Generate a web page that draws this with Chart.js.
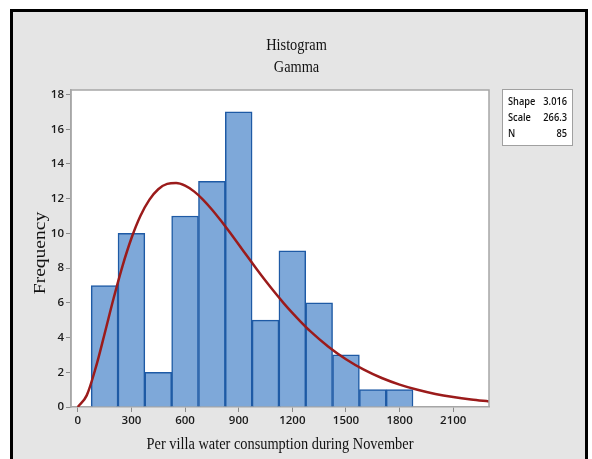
<!DOCTYPE html>
<html>
<head>
<meta charset="utf-8">
<script src="https://cdn.jsdelivr.net/npm/chart.js@4/dist/chart.umd.min.js"></script>
<style>
  body { margin: 0; background: #fff; }
  #frame {
    position: absolute; left: 10px; top: 9px;
    width: 578px; height: 470px;
    box-sizing: border-box;
    border: 3px solid #000;
    background: #e5e5e5;
  }
  #myChart { position: absolute; left: 0; top: 0; }
</style>
</head>
<body>
<div id="frame"></div>
<canvas id="myChart" width="592" height="459"></canvas>
<script>
// histogram bins (midpoints, width 150) and counts
var binMids = [150, 300, 450, 600, 750, 900, 1050, 1200, 1350, 1500, 1650, 1800];
var counts = [7, 10, 2, 11, 13, 17, 5, 9, 6, 3, 1, 1];

// fitted gamma curve
var curveX = [0, 50, 100, 150, 200, 250, 300, 350, 400, 450, 500, 550, 600, 650, 700, 750, 800,
    850, 900, 950, 1000, 1050, 1100, 1150, 1200, 1250, 1300, 1400, 1500, 1600, 1700, 1800,
    1900, 2000, 2100, 2200, 2300];
var curveY = [0, 0.67, 2.25, 4.22, 6.25, 8.12, 9.72, 11.0, 11.93, 12.54, 12.85, 12.9, 12.75, 12.42,
    11.95, 11.38, 10.74, 10.06, 9.36, 8.65, 7.95, 7.27, 6.62, 6.0, 5.42, 4.88, 4.37, 3.49,
    2.75, 2.15, 1.67, 1.29, 0.99, 0.75, 0.57, 0.43, 0.32];

var xTickValues = [0, 300, 600, 900, 1200, 1500, 1800, 2100];
var yTickValues = [0, 2, 4, 6, 8, 10, 12, 14, 16, 18];

var fitStats = [['Shape', '3.016'], ['Scale', '266.3'], ['N', '85']];

function squishText(ctx, txt, x, y, font, sx, rotate, align) {
    ctx.save();
    ctx.translate(x, y);
    ctx.scale(sx, 1);
    if (rotate) ctx.rotate(-Math.PI / 2);
    ctx.font = font;
    ctx.textAlign = align || 'center';
    ctx.textBaseline = 'alphabetic';
    ctx.fillStyle = '#111';
    ctx.fillText(txt, 0, 0);
    ctx.restore();
}

var minitabLook = {
    id: 'minitabLook',
    beforeDraw: function(chart) {
        var ctx = chart.ctx, a = chart.chartArea;
        ctx.save();
        ctx.fillStyle = '#fff';
        ctx.fillRect(a.left, a.top, a.right - a.left, a.bottom - a.top);
        ctx.restore();
    },
    afterDraw: function(chart) {
        var ctx = chart.ctx, a = chart.chartArea;
        // plot frame
        ctx.save();
        ctx.strokeStyle = '#a6a6a6';
        ctx.lineWidth = 1.5;
        ctx.beginPath();
        ctx.moveTo(a.left, a.bottom);
        ctx.lineTo(a.left, a.top);
        ctx.lineTo(a.right, a.top);
        ctx.lineTo(a.right, a.bottom);
        ctx.stroke();
        ctx.restore();

        var serif = '"Liberation Serif", "Times New Roman", serif';
        squishText(ctx, 'Histogram', 296.5, 49.5, '17px ' + serif, 0.845);
        squishText(ctx, 'Gamma', 296.5, 72, '17px ' + serif, 0.845);
        squishText(ctx, 'Per villa water consumption during November', (a.left + a.right) / 2, 449, '17px ' + serif, 0.845);
        squishText(ctx, 'Frequency', 45, 253, '19.5px ' + serif, 0.9, true);

        // fit statistics box
        ctx.save();
        ctx.fillStyle = '#fff';
        ctx.strokeStyle = '#a0a0a0';
        ctx.lineWidth = 1;
        ctx.fillRect(502.5, 89.5, 70, 56);
        ctx.strokeRect(502.5, 89.5, 70, 56);
        ctx.restore();
        var sans = '600 11px "Open Sans", sans-serif';
        for (var i = 0; i < fitStats.length; i++) {
            var by = 105 + i * 16;
            squishText(ctx, fitStats[i][0], 508, by, sans, 0.84, false, 'left');
            squishText(ctx, fitStats[i][1], 567, by, sans, 0.84, false, 'right');
        }
    }
};

var tickFont = { family: '"Open Sans", sans-serif', size: 11.5, weight: '600' };

var ctx = document.getElementById('myChart').getContext('2d');
var myChart = new Chart(ctx, {
    data: {
        datasets: [{
            type: 'line',
            label: 'Gamma fit',
            data: curveX.map(function(x, i) { return {x: x, y: curveY[i]}; }),
            borderColor: '#9b1b1b',
            borderWidth: 2.5,
            pointRadius: 0,
            tension: 0.4,
            cubicInterpolationMode: 'monotone',
            order: 0
        }, {
            type: 'bar',
            label: 'Frequency',
            data: binMids.map(function(m, i) { return {x: m, y: counts[i]}; }),
            backgroundColor: '#7ea8d9',
            borderColor: '#1e5aa5',
            borderWidth: 1.5,
            barPercentage: 1,
            categoryPercentage: 1,
            order: 1
        }]
    },
    options: {
        responsive: false,
        devicePixelRatio: 1,
        animation: false,
        layout: { padding: { left: 0, top: 90, right: 103, bottom: 0 } },
        plugins: {
            legend: { display: false },
            tooltip: { enabled: false }
        },
        scales: {
            x: {
                type: 'linear',
                min: -38,
                max: 2300,
                offset: false,
                afterBuildTicks: function(scale) {
                    scale.ticks = xTickValues.map(function(v) { return {value: v}; });
                },
                afterFit: function(scale) { scale.height = 52; },
                grid: { drawOnChartArea: false, offset: false, tickLength: 5, color: '#8a8a8a' },
                border: { color: '#a6a6a6', width: 1.5 },
                ticks: {
                    padding: 2,
                    maxRotation: 0,
                    color: '#1a1a1a',
                    font: tickFont,
                    callback: function(v) { return String(v); }
                }
            },
            y: {
                min: 0,
                max: 18.26,
                afterBuildTicks: function(scale) {
                    scale.ticks = yTickValues.map(function(v) { return {value: v}; });
                },
                afterFit: function(scale) { scale.width = 71; },
                grid: { drawOnChartArea: false, tickLength: 5, color: '#8a8a8a' },
                border: { color: '#a6a6a6', width: 1.5 },
                ticks: {
                    padding: 2,
                    color: '#1a1a1a',
                    font: tickFont,
                    callback: function(v) { return String(v); }
                }
            }
        }
    },
    plugins: [minitabLook]
});
</script>
</body>
</html>
